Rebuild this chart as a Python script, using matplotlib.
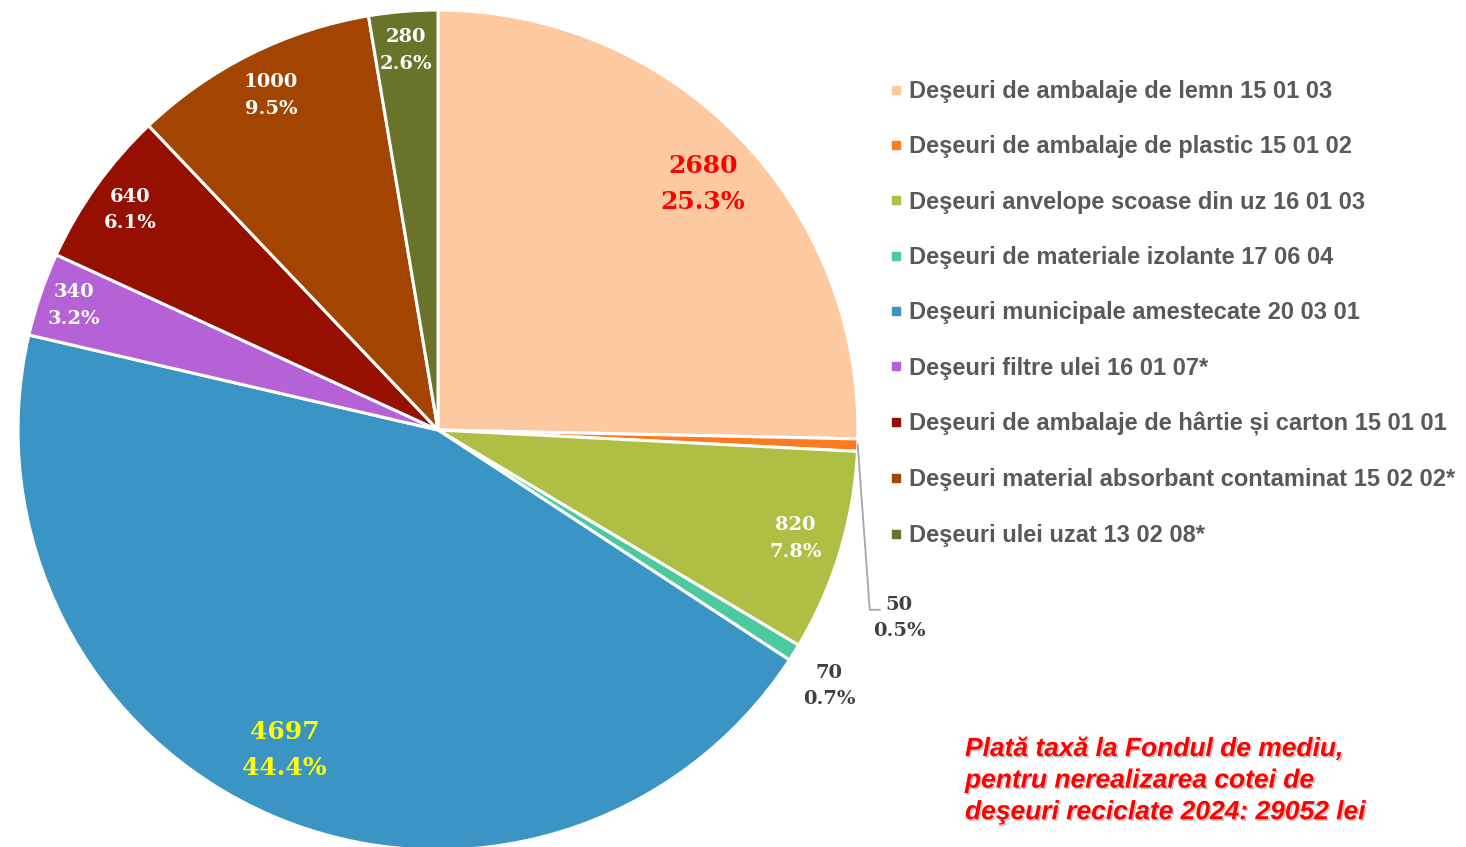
import os
import numpy as np
import matplotlib
matplotlib.use("Agg")
import matplotlib.pyplot as plt
import matplotlib.patheffects as pe
from matplotlib.lines import Line2D
from matplotlib.font_manager import FontProperties

# data
categories = [
    "Deşeuri de ambalaje de lemn 15 01 03",
    "Deşeuri de ambalaje de plastic 15 01 02",
    "Deşeuri anvelope scoase din uz 16 01 03",
    "Deşeuri de materiale izolante 17 06 04",
    "Deşeuri municipale amestecate 20 03 01",
    "Deşeuri filtre ulei 16 01 07*",
    "Deşeuri de ambalaje de hârtie și carton 15 01 01",
    "Deşeuri material absorbant contaminat 15 02 02*",
    "Deşeuri ulei uzat 13 02 08*",
]
values = [2680, 50, 820, 70, 4697, 340, 640, 1000, 280]
colors = ["#FDC9A0", "#FF7A1C", "#AEBF44", "#4DC9A0", "#3B95C4",
          "#B462D6", "#951000", "#A34400", "#6A732A"]
note = "Plată taxă la Fondul de mediu,\npentru nerealizarea cotei de\ndeşeuri reciclate 2024: 29052 lei"

# label styling per slice (radius as fraction of pie radius, angle shift, colour, size)
label_radius = [0.86, None, 0.89, None, 0.845, 0.917, 0.9, 0.89, 0.907]
label_shift = [-1.5, 0, 0, 0, -2.5, 0, 0, 0, 0]
label_color = ["#FF0000", "#404040", "white", "#404040", "#FFFF00",
               "white", "white", "white", "white"]
label_size = [18, 14, 14, 14, 18, 14, 14, 14, 14]
outside_xy = {1: (1.098, -0.448), 3: (0.931, -0.610)}

serif_bold = os.path.join(matplotlib.get_data_path(), "fonts", "ttf", "DejaVuSerif-Bold.ttf")

W, H = 1466, 847
fig = plt.figure(figsize=(W / 100, H / 100), dpi=100)
cx, cy, R = 438, 430, 420
ax = fig.add_axes([(cx - R) / W, (H - cy - R) / H, 2 * R / W, 2 * R / H])

wedges, _ = ax.pie(values, colors=colors, startangle=90, counterclock=False,
                   radius=1, wedgeprops=dict(edgecolor="white", linewidth=2.2))
ax.set_xlim(-1, 1)
ax.set_ylim(-1, 1)
ax.axis("off")

total = sum(values)
for i, (w, v) in enumerate(zip(wedges, values)):
    mid = np.deg2rad((w.theta1 + w.theta2) / 2 + label_shift[i])
    txt = f"{v}\n{v / total * 100:.1f}%"
    if label_radius[i] is not None:
        x, y = label_radius[i] * np.cos(mid), label_radius[i] * np.sin(mid)
    else:
        x, y = outside_xy[i]
    ax.text(x, y, txt, ha="center", va="center", color=label_color[i],
            fontproperties=FontProperties(fname=serif_bold, size=label_size[i]),
            linespacing=1.6, clip_on=False)

# leader line for the small plastic slice
w = wedges[1]
mid = np.deg2rad((w.theta1 + w.theta2) / 2)
lx, ly = outside_xy[1]
ax.plot([np.cos(mid), lx - 0.07, lx - 0.046], [np.sin(mid), ly + 0.02, ly + 0.02],
        color="#A6A6A6", lw=1.3, clip_on=False)

handles = [Line2D([], [], marker="s", linestyle="none", markersize=6,
                  markerfacecolor=c, markeredgecolor=c) for c in colors]
fig.legend(handles, categories, loc="upper left",
           bbox_to_anchor=(890 / W, 1 - 80 / H), frameon=False,
           prop=dict(family="Liberation Sans", weight="bold", size=17),
           labelcolor="#595959", handlelength=0.5, handletextpad=0.3,
           labelspacing=1.37, borderpad=0, borderaxespad=0)

fig.text(965 / W, 1 - 737 / H, note, ha="left", va="top", color="#FF0000",
         fontsize=19, fontweight="bold", style="italic", family="Liberation Sans",
         linespacing=1.4,
         path_effects=[pe.SimplePatchShadow(offset=(1.2, -1.2), shadow_rgbFace="#888888", alpha=0.5),
                       pe.Normal()])

fig.savefig("out.png", dpi=100)
